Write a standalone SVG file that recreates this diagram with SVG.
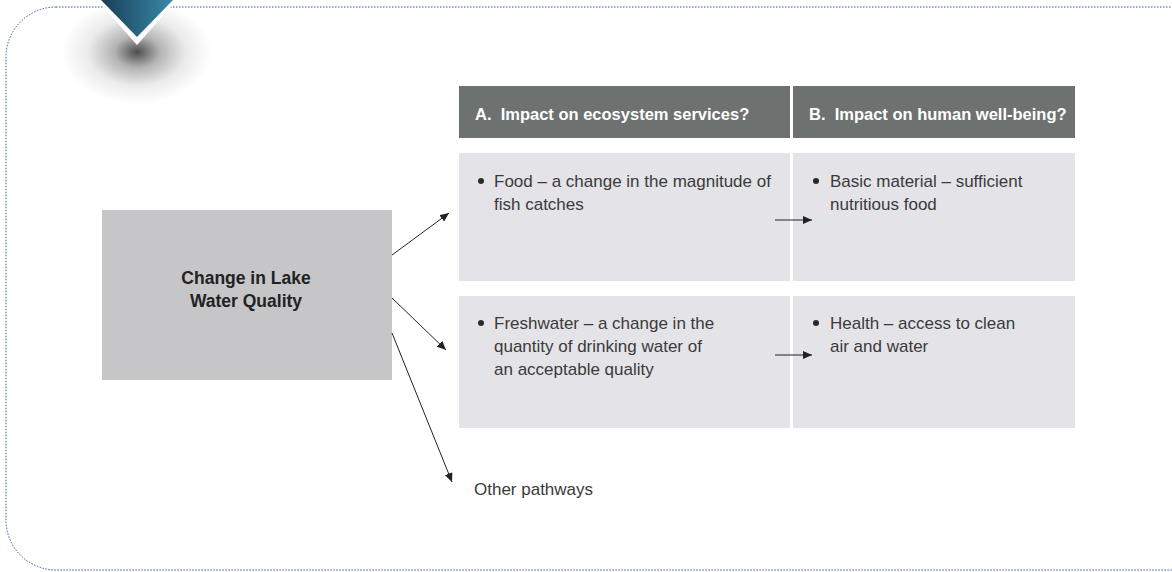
<svg xmlns="http://www.w3.org/2000/svg" width="1172" height="572" viewBox="0 0 1172 572">
<style>
.hdr{fill:#6d7170}
.cell{fill:#e4e4e8}
.ht{font-family:"Liberation Sans",Arial,sans-serif;font-weight:bold;font-size:16.5px;fill:#ffffff}
.bt{font-family:"Liberation Sans",Arial,sans-serif;font-size:17px;fill:#3a3a3a}
.ct{font-family:"Liberation Sans",Arial,sans-serif;font-weight:bold;font-size:17.5px;fill:#222222;text-anchor:middle}
.bul{fill:#2a2a2a}
.conn{stroke:#222;stroke-width:1;fill:none;marker-end:url(#ah)}
</style>
<defs>
<marker id="ah" markerWidth="10" markerHeight="8" refX="9" refY="4" orient="auto" markerUnits="userSpaceOnUse">
<path d="M0,0 L9,4 L0,8 Z" fill="#222"/>
</marker>
<linearGradient id="teal" x1="0" y1="0" x2="1" y2="0">
<stop offset="0" stop-color="#173f58"/>
<stop offset="1" stop-color="#3a8aa8"/>
</linearGradient>
<radialGradient id="shadow" cx="0.5" cy="0.5" r="0.5">
<stop offset="0" stop-color="#000" stop-opacity="0.7"/>
<stop offset="0.3" stop-color="#000" stop-opacity="0.3"/>
<stop offset="0.65" stop-color="#000" stop-opacity="0.08"/>
<stop offset="1" stop-color="#000" stop-opacity="0"/>
</radialGradient>
</defs>
<rect x="6" y="7" width="1215" height="563" rx="50" ry="50" fill="none" stroke="#2f5a9a" stroke-width="1" stroke-dasharray="1.5 1.5"/>
<g id="badge">
<ellipse cx="137" cy="52" rx="75" ry="52" fill="url(#shadow)"/>
<path d="M97,0 L177,0 L137,45 Z" fill="#ffffff"/>
<path d="M101,0 L173,0 L137,37 Z" fill="url(#teal)"/>
</g>
<g id="headerA"><rect class="hdr" x="459" y="86" width="331" height="52"/><text class="ht" x="475" y="120">A.&#160; Impact on ecosystem services?</text></g>
<g id="headerB"><rect class="hdr" x="793" y="86" width="282" height="52"/><text class="ht" x="809" y="120">B.&#160; Impact on human well-being?</text></g>
<g id="a1"><rect class="cell" x="459" y="153" width="331" height="128"/>
<circle class="bul" cx="481" cy="181" r="3"/><text class="bt" x="494" y="187">Food – a change in the magnitude of</text><text class="bt" x="494" y="210">fish catches</text></g>
<g id="b1"><rect class="cell" x="793" y="153" width="282" height="128"/>
<circle class="bul" cx="816" cy="181" r="3"/><text class="bt" x="830" y="187">Basic material – sufficient</text><text class="bt" x="830" y="210">nutritious food</text></g>
<g id="a2"><rect class="cell" x="459" y="296" width="331" height="132"/>
<circle class="bul" cx="481" cy="323" r="3"/><text class="bt" x="494" y="329">Freshwater – a change in the</text><text class="bt" x="494" y="352">quantity of drinking water of</text><text class="bt" x="494" y="375">an acceptable quality</text></g>
<g id="b2"><rect class="cell" x="793" y="296" width="282" height="132"/>
<circle class="bul" cx="816" cy="323" r="3"/><text class="bt" x="830" y="329">Health – access to clean</text><text class="bt" x="830" y="352">air and water</text></g>
<g id="source"><rect x="102" y="210" width="290" height="170" fill="#c6c6c8"/>
<text class="ct" x="246" y="284">Change in Lake</text><text class="ct" x="246" y="307">Water Quality</text></g>
<g id="other"><text class="bt" x="474" y="495">Other pathways</text></g>
<g id="connectors">
<line class="conn" x1="392" y1="255" x2="449" y2="213"/>
<line class="conn" x1="392" y1="298" x2="446" y2="350"/>
<line class="conn" x1="392" y1="333" x2="452" y2="482"/>
<line class="conn" x1="775" y1="220" x2="812" y2="220"/>
<line class="conn" x1="775" y1="355" x2="812" y2="355"/>
</g>
</svg>
